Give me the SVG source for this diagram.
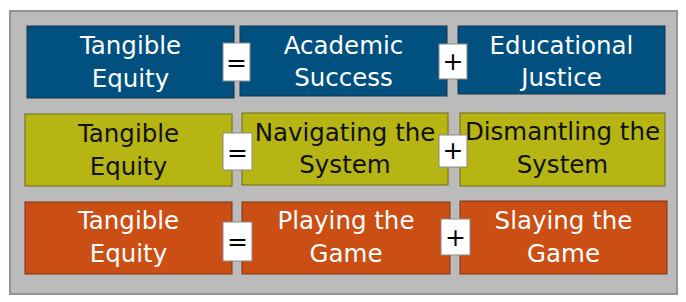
<svg xmlns="http://www.w3.org/2000/svg" width="686" height="302" viewBox="0 0 686 302">
<style>
.bg{fill:#BBBBBB;stroke:#959595;stroke-width:2}
.blue{fill:#005080;stroke:#1F3348;stroke-width:1}
.olive{fill:#B6B514;stroke:#6E6D14;stroke-width:1}
.orange{fill:#CB4E14;stroke:#7E3312;stroke-width:1}
.op{fill:#FFFFFF;stroke:#8A8A8A;stroke-width:1}
text{font-family:"DejaVu Sans","Liberation Sans",sans-serif;font-size:24.5px;text-anchor:middle}
.w{fill:#FFFFFF}
.k{fill:#111111}
.sym{fill:#000000;font-size:25px}
</style>
<rect class="bg" x="10" y="11" width="667" height="283"/>
<g id="row1">
<g id="n-r1-tangible"><rect class="blue" x="27" y="26" width="207" height="72"/><text class="w" x="130.5" y="54">Tangible</text><text class="w" x="130.5" y="87">Equity</text></g>
<g id="n-r1-academic"><rect class="blue" x="240" y="26" width="207" height="70"/><text class="w" x="343.5" y="54">Academic</text><text class="w" x="343.5" y="86">Success</text></g>
<g id="n-r1-educational"><rect class="blue" x="458" y="26" width="207" height="68"/><text class="w" x="561.5" y="54">Educational</text><text class="w" x="561.5" y="86">Justice</text></g>
<g id="op-r1-eq"><rect class="op" x="223" y="43" width="27" height="38"/><text class="sym" x="236.5" y="71">=</text></g>
<g id="op-r1-plus"><rect class="op" x="439" y="44" width="28" height="35"/><text class="sym" x="453" y="70">+</text></g>
</g>
<g id="row2">
<g id="n-r2-tangible"><rect class="olive" x="25" y="114" width="207" height="72"/><text class="k" x="128.5" y="142">Tangible</text><text class="k" x="128.5" y="175">Equity</text></g>
<g id="n-r2-navigating"><rect class="olive" x="242" y="113" width="206" height="72"/><text class="k" x="345" y="141">Navigating the</text><text class="k" x="345" y="173">System</text></g>
<g id="n-r2-dismantling"><rect class="olive" x="460" y="113" width="205" height="73"/><text class="k" x="562.5" y="140">Dismantling the</text><text class="k" x="562.5" y="173">System</text></g>
<g id="op-r2-eq"><rect class="op" x="223" y="133" width="29" height="37"/><text class="sym" x="237.5" y="161">=</text></g>
<g id="op-r2-plus"><rect class="op" x="439" y="135" width="28" height="32"/><text class="sym" x="453" y="159">+</text></g>
</g>
<g id="row3">
<g id="n-r3-tangible"><rect class="orange" x="25" y="202" width="207" height="72"/><text class="w" x="128.5" y="229">Tangible</text><text class="w" x="128.5" y="262">Equity</text></g>
<g id="n-r3-playing"><rect class="orange" x="242" y="202" width="208" height="72"/><text class="w" x="346" y="229">Playing the</text><text class="w" x="346" y="262">Game</text></g>
<g id="n-r3-slaying"><rect class="orange" x="460" y="201" width="207" height="73"/><text class="w" x="563.5" y="229">Slaying the</text><text class="w" x="563.5" y="262">Game</text></g>
<g id="op-r3-eq"><rect class="op" x="223" y="222" width="29" height="39"/><text class="sym" x="237.5" y="250">=</text></g>
<g id="op-r3-plus"><rect class="op" x="441" y="219" width="29" height="36"/><text class="sym" x="455.5" y="246">+</text></g>
</g>
<g id="connectors"/>
</svg>
